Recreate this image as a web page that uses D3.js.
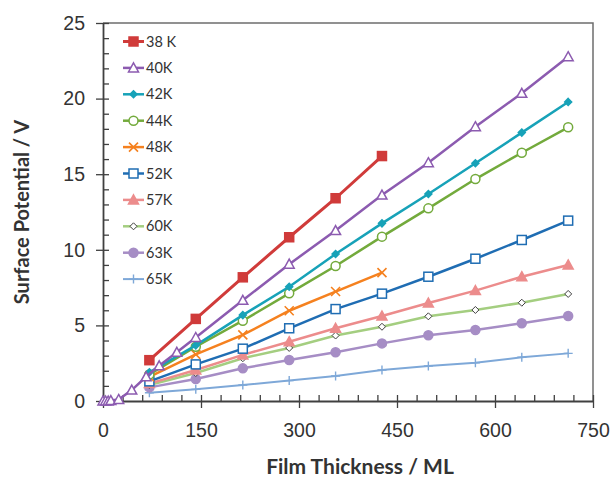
<!DOCTYPE html>
<html>
<head>
<meta charset="utf-8">
<script src="https://cdn.jsdelivr.net/npm/d3@7"></script>
<style>
  body { margin: 0; background: #fff; }
  svg { font-family: Lato, "Open Sans", sans-serif; }
</style>
</head>
<body>
<svg id="chart" width="612" height="486"></svg>
<script>
// data (film thickness in ML, surface potential in V)
const xStd = [71, 142, 214, 285, 356, 427, 498, 570, 641, 712];
const x40 = [0, 4, 8, 12, 24, 44, 66, 86, 113, 142, 214, 285, 356, 427, 498, 570, 641, 712];

const v38 = [2.70, 5.43, 8.18, 10.83, 13.41, 16.20];
const v40 = [0, 0, 0, 0.03, 0.1, 0.72, 1.6, 2.33, 3.22, 4.2, 6.66, 9.05, 11.27, 13.62, 15.76, 18.14, 20.35, 22.77];
const v42 = [1.9, 3.68, 5.68, 7.56, 9.72, 11.75, 13.69, 15.72, 17.75, 19.78];
const v44 = [1.75, 3.59, 5.31, 7.12, 8.93, 10.87, 12.74, 14.68, 16.42, 18.10];
const v48 = [1.6, 3.08, 4.37, 5.97, 7.24, 8.49];
const v52 = [1.3, 2.42, 3.46, 4.81, 6.08, 7.10, 8.22, 9.41, 10.65, 11.93];
const v57 = [1.15, 2.05, 3.05, 3.92, 4.81, 5.62, 6.48, 7.30, 8.22, 9.0];
const v60 = [1.05, 1.85, 2.83, 3.51, 4.33, 4.91, 5.60, 6.02, 6.50, 7.08];
const v63 = [0.9, 1.45, 2.16, 2.71, 3.22, 3.81, 4.35, 4.70, 5.14, 5.62];
const v65 = [0.55, 0.77, 1.06, 1.35, 1.65, 2.05, 2.31, 2.53, 2.89, 3.15];

const names = ["38 K", "40K", "42K", "44K", "48K", "52K", "57K", "60K", "63K", "65K"];
const xTicks = [0, 150, 300, 450, 600, 750];
const yTicks = [0, 5, 10, 15, 20, 25];

const series = [
  { name: names[0], xs: xStd, ys: v38, color: "#d03b3a", marker: "square", fill: true, w: 3 },
  { name: names[1], xs: x40, ys: v40, color: "#8c5bb0", marker: "triangle", fill: false, w: 2.5 },
  { name: names[2], xs: xStd, ys: v42, color: "#17a2b8", marker: "diamond", fill: true, w: 2.5 },
  { name: names[3], xs: xStd, ys: v44, color: "#73aa3c", marker: "circle", fill: false, w: 2.5 },
  { name: names[4], xs: xStd, ys: v48, color: "#f5811f", marker: "x", fill: false, w: 2.5 },
  { name: names[5], xs: xStd, ys: v52, color: "#1f6db3", marker: "square", fill: false, w: 2.5 },
  { name: names[6], xs: xStd, ys: v57, color: "#ec8c8c", marker: "triangle", fill: true, w: 2.5 },
  { name: names[7], xs: xStd, ys: v60, color: "#a4ce80", marker: "diamond", fill: false, w: 2.5, stroke: "#404040" },
  { name: names[8], xs: xStd, ys: v63, color: "#a68dc5", marker: "circle", fill: true, w: 2.5 },
  { name: names[9], xs: xStd, ys: v65, color: "#7ea8d8", marker: "plus", fill: false, w: 2 }
];

const svg = d3.select("#chart");
const margin = { left: 103, right: 19, top: 23, bottom: 85 };
const width = 612 - margin.left - margin.right;
const height = 486 - margin.top - margin.bottom;

const x = d3.scaleLinear().domain([0, 750]).range([0, width]);
const y = d3.scaleLinear().domain([0, 25]).range([height, 0]);

const g = svg.append("g").attr("transform", `translate(${margin.left},${margin.top})`);

// frame (top and right)
g.append("path")
  .attr("d", `M0,0H${width}V${height}`)
  .attr("fill", "none")
  .attr("stroke", "#6d6d6d")
  .attr("stroke-width", 1.5);

// minor ticks (inside)
g.append("g")
  .attr("transform", `translate(0,${height})`)
  .call(d3.axisBottom(x).tickValues(d3.range(0, 751, 30)).tickSize(-6).tickFormat(""))
  .call(a => a.select(".domain").remove());
g.append("g")
  .call(d3.axisLeft(y).tickValues(d3.range(0, 26, 1)).tickSize(-6).tickFormat(""))
  .call(a => a.select(".domain").remove());

const xAxis = g.append("g")
  .attr("transform", `translate(0,${height})`)
  .call(d3.axisBottom(x).tickValues(xTicks).tickSize(7).tickPadding(15).tickSizeOuter(0));
const yAxis = g.append("g")
  .call(d3.axisLeft(y).tickValues(yTicks).tickSize(7).tickPadding(11).tickSizeOuter(0));

[xAxis, yAxis].forEach(a => {
  a.selectAll("text").style("font-size", "19.5px").attr("fill", "#333");
});
g.selectAll(".tick line").attr("stroke", "#404040").attr("stroke-width", 1.3);
g.selectAll(".domain").attr("stroke", "#404040").attr("stroke-width", 1.8);

// marker drawing
function drawMarker(sel, s, size) {
  const r = size / 2;
  const fill = s.fill ? s.color : "#fff";
  const stroke = s.stroke || s.color;
  if (s.marker === "square") {
    sel.append("rect").attr("x", -r).attr("y", -r).attr("width", size).attr("height", size)
      .attr("fill", fill).attr("stroke", stroke).attr("stroke-width", 1.5);
  } else if (s.marker === "triangle") {
    sel.append("path").attr("d", `M0,${-r - 1}L${r + 1},${r}L${-r - 1},${r}Z`)
      .attr("fill", fill).attr("stroke", stroke).attr("stroke-width", 1.5);
  } else if (s.marker === "diamond") {
    const d = s.fill ? r : r - 0.5;
    sel.append("path").attr("d", `M0,${-d}L${d},0L0,${d}L${-d},0Z`)
      .attr("fill", fill).attr("stroke", stroke).attr("stroke-width", s.fill ? 1.5 : 1);
  } else if (s.marker === "circle") {
    sel.append("circle").attr("r", r)
      .attr("fill", fill).attr("stroke", stroke).attr("stroke-width", 1.5);
  } else if (s.marker === "x") {
    sel.append("path").attr("d", `M${-r},${-r}L${r},${r}M${r},${-r}L${-r},${r}`)
      .attr("stroke", stroke).attr("stroke-width", 1.6);
  } else if (s.marker === "plus") {
    sel.append("path").attr("d", `M${-r},0H${r}M0,${-r}V${r}`)
      .attr("stroke", stroke).attr("stroke-width", 1.4);
  }
}

const sizes = { square: 9, triangle: 8, diamond: 8, circle: 9, x: 9, plus: 9 };

const line = d3.line().x(d => x(d[0])).y(d => y(d[1]));

// draw back-to-front so 38K sits on top
series.slice().reverse().forEach(s => {
  const pts = s.xs.slice(0, s.ys.length).map((xv, i) => [xv, s.ys[i]]);
  g.append("path")
    .datum(pts)
    .attr("fill", "none")
    .attr("stroke", s.color)
    .attr("stroke-width", s.w)
    .attr("d", line);
  g.append("g").selectAll("g")
    .data(pts)
    .join("g")
    .attr("transform", d => `translate(${x(d[0])},${y(d[1])})`)
    .each(function() { drawMarker(d3.select(this), s, s.marker === "diamond" && s.fill ? 7 : sizes[s.marker]); });
});

// legend
const legend = g.append("g").attr("transform", "translate(20,18.5)");
series.forEach((s, i) => {
  const row = legend.append("g").attr("transform", `translate(0,${i * 26.4})`);
  row.append("line").attr("x1", 0).attr("x2", 21).attr("stroke", s.color).attr("stroke-width", s.w);
  drawMarker(row.append("g").attr("transform", "translate(10.5,0)"), s,
    s.marker === "diamond" && s.fill ? 7 : sizes[s.marker]);
  row.append("text")
    .attr("x", 23)
    .attr("dy", "0.35em")
    .style("font-size", "14.5px")
    .attr("fill", "#333")
    .text(s.name);
});

// axis titles
svg.append("text")
  .attr("x", 360)
  .attr("y", 474)
  .attr("text-anchor", "middle")
  .style("font-size", "21px")
  .style("font-weight", "bold")
  .attr("fill", "#333")
  .text("Film Thickness / ML");

svg.append("text")
  .attr("transform", "rotate(-90)")
  .attr("x", -212)
  .attr("y", 29)
  .attr("text-anchor", "middle")
  .style("font-size", "20px")
  .style("font-weight", "bold")
  .attr("fill", "#333")
  .text("Surface Potential / V");
</script>
</body>
</html>
